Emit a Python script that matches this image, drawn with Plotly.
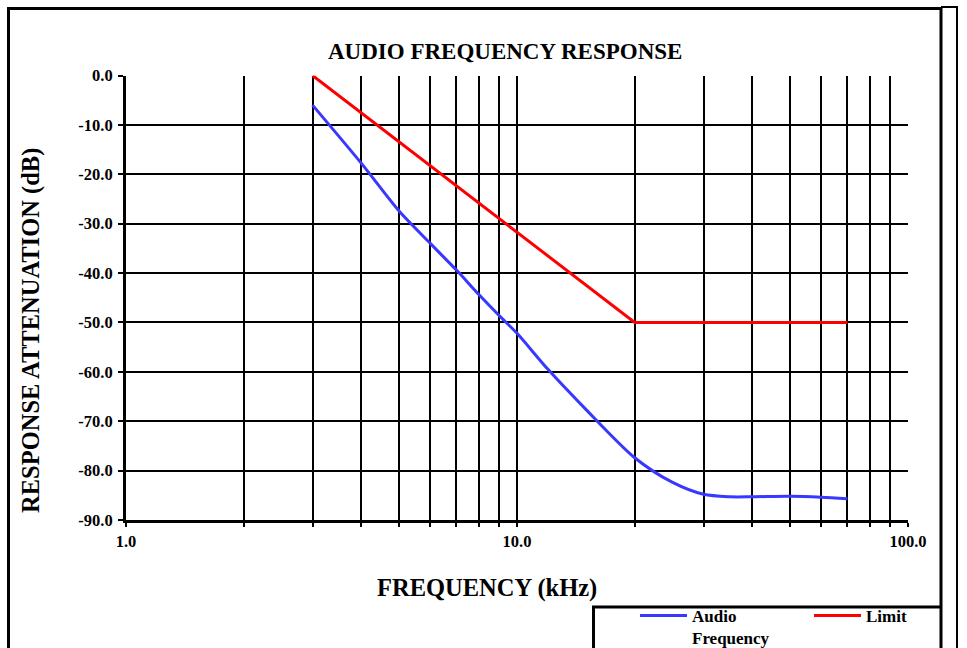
import plotly.graph_objects as go

# ---- data ----
audio_freq_khz = [3, 4, 5, 6, 7, 8, 9, 10, 12, 15, 20, 25, 30, 35, 40, 50, 60, 70]
audio_response_db = [-6.0, -17.8, -27.5, -34.0, -39.4, -44.4, -48.6, -52.2, -59.5, -67.6,
                     -77.4, -82.4, -84.8, -85.3, -85.3, -85.2, -85.4, -85.7]
limit_freq_khz = [3, 20, 70]
limit_db = [0.0, -50.0, -50.0]

x_tick_vals = [1, 2, 3, 4, 5, 6, 7, 8, 9, 10, 20, 30, 40, 50, 60, 70, 80, 90, 100]
x_tick_text = ["1.0", "", "", "", "", "", "", "", "", "10.0", "", "", "", "", "", "", "", "", "100.0"]
y_tick_vals = [0, -10, -20, -30, -40, -50, -60, -70, -80, -90]
y_tick_text = ["0.0", "-10.0", "-20.0", "-30.0", "-40.0", "-50.0", "-60.0", "-70.0", "-80.0", "-90.0"]

W, H = 967, 648
L, R, T, B = 126, 908, 75.5, 520


def px(x):
    return x / W


def py(y):
    return 1 - y / H


FONT = "Liberation Serif"

fig = go.Figure()
fig.add_trace(go.Scatter(
    x=audio_freq_khz, y=audio_response_db, mode="lines", name="Audio<br>Frequency",
    line=dict(color="#3838ff", width=3, shape="spline", smoothing=0.8),
))
fig.add_trace(go.Scatter(
    x=limit_freq_khz, y=limit_db, mode="lines", name="Limit",
    line=dict(color="#ff0000", width=3),
))

axis_font = dict(family=FONT, size=16.5, color="black", weight="bold")

fig.update_xaxes(
    type="log", range=[0, 2], tickvals=x_tick_vals, ticktext=x_tick_text,
    domain=[px(L), px(R)],
    showgrid=True, gridcolor="black", gridwidth=2,
    showline=True, linecolor="black", linewidth=3,
    ticks="outside", ticklen=4, tickwidth=2, tickcolor="black",
    tickfont=axis_font, ticklabelstandoff=0, zeroline=False, fixedrange=True,
)
fig.update_yaxes(
    range=[-90, 0], tickvals=y_tick_vals, ticktext=y_tick_text,
    domain=[py(B), py(T)],
    showgrid=True, gridcolor="black", gridwidth=2,
    showline=True, linecolor="black", linewidth=3,
    ticks="outside", ticklen=5, tickwidth=2, tickcolor="black",
    tickfont=axis_font, ticklabelstandoff=2, zeroline=False, fixedrange=True,
)


def hline(x0, x1, y, w):
    return dict(type="line", xref="paper", yref="paper", x0=px(x0), x1=px(x1), y0=py(y), y1=py(y),
                line=dict(color="black", width=w))


def vline(x, y0, y1, w):
    return dict(type="line", xref="paper", yref="paper", x0=px(x), x1=px(x), y0=py(y0), y1=py(y1),
                line=dict(color="black", width=w))


shapes = [
    # outer frame
    hline(7, 941, 8.5, 3),
    hline(941, 958, 7, 2),
    vline(8.5, 7, 648, 3),
    vline(941, 7, 648, 3),
    vline(957, 6, 648, 2),
    # legend box
    hline(592, 941, 607, 3),
    vline(593.5, 606, 648, 3),
]

annotations = [
    dict(text="AUDIO FREQUENCY RESPONSE", xref="paper", yref="paper", x=px(505), y=py(51),
         xanchor="center", yanchor="middle", showarrow=False,
         font=dict(family=FONT, size=23, color="black", weight="bold")),
    dict(text="FREQUENCY (kHz)", xref="paper", yref="paper", x=px(487), y=py(588),
         xanchor="center", yanchor="middle", showarrow=False,
         font=dict(family=FONT, size=24.5, color="black", weight="bold")),
    dict(text="RESPONSE ATTENUATION (dB)", xref="paper", yref="paper", x=px(31), y=py(331),
         xanchor="center", yanchor="middle", showarrow=False, textangle=-90,
         font=dict(family=FONT, size=24.5, color="black", weight="bold")),
]

fig.update_layout(
    width=W, height=H,
    margin=dict(l=0, r=0, t=0, b=0, pad=0, autoexpand=False),
    paper_bgcolor="white", plot_bgcolor="white",
    showlegend=True,
    legend=dict(orientation="h", x=px(635), y=py(598), xanchor="left", yanchor="top",
                bgcolor="rgba(0,0,0,0)", borderwidth=0, valign="top",
                font=dict(family=FONT, size=17, color="black", weight="bold"),
                itemwidth=47, entrywidth=112, entrywidthmode="pixels", tracegroupgap=0),
    shapes=shapes, annotations=annotations,
)

fig.write_html(
    "out.html",
    config={"displayModeBar": False},
    post_script="document.body.style.margin='0';document.body.style.overflow='hidden';",
)
